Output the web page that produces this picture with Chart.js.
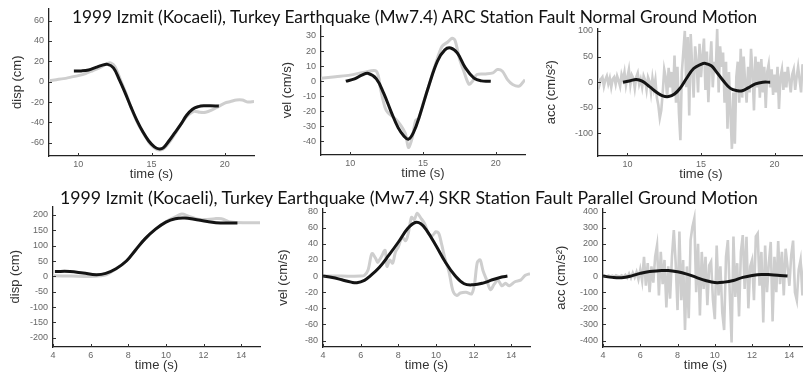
<!DOCTYPE html>
<html>
<head>
<meta charset="utf-8">
<script src="https://cdn.jsdelivr.net/npm/chart.js@4.4.1/dist/chart.umd.min.js"></script>
<style>
html,body{margin:0;padding:0;background:#fff}
#fig{position:relative;width:803px;height:372px;overflow:hidden;background:#fff}
#fig canvas{position:absolute}
.ttl{position:absolute;z-index:5;font-family:Lato,'Open Sans',sans-serif;color:#111;white-space:nowrap;line-height:1}
</style>
</head>
<body>
<div id="fig">
  <canvas id="arcDisp"></canvas>
  <canvas id="arcVel"></canvas>
  <canvas id="arcAcc"></canvas>
  <canvas id="skrDisp"></canvas>
  <canvas id="skrVel"></canvas>
  <canvas id="skrAcc"></canvas>
  <div class="ttl" id="title1">1999 Izmit (Kocaeli), Turkey Earthquake (Mw7.4) ARC Station Fault Normal Ground Motion</div>
  <div class="ttl" id="title2">1999 Izmit (Kocaeli), Turkey Earthquake (Mw7.4) SKR Station Fault Parallel Ground Motion</div>
</div>
<script>
// ===== Tick labels =====
const arcTimeTicks = [10, 15, 20];
const skrTimeTicks = [4, 6, 8, 10, 12, 14];
const arcDispTicks = [-60, -40, -20, 0, 20, 40, 60];
const arcVelTicks = [-40, -30, -20, -10, 0, 10, 20, 30];
const arcAccTicks = [-100, -50, 0, 50, 100];
const skrDispTicks = [-200, -150, -100, -50, 0, 50, 100, 150, 200];
const skrVelTicks = [-80, -60, -40, -20, 0, 20, 40, 60, 80];
const skrAccTicks = [-400, -300, -200, -100, 0, 100, 200, 300, 400];

// ===== ARC station (fault normal) =====
// model pulse (black)
const arcDispModelT = [9.7,10.2,10.7,11.2,11.6,12.0,12.4,12.8,13.2,13.6,14.0,14.4,14.8,15.2,15.5,15.8,16.2,16.6,17.0,17.4,17.8,18.2,18.6,19.0,19.6];
const arcDispModelV = [10.5,10.6,11.5,14,16,17,13.5,2,-11,-25,-38,-49,-58,-64,-66,-65,-58,-50,-42,-33,-27,-24.5,-23.6,-23.6,-24];
// recorded (grey)
const arcDispRecT = [8,8.5,9,9.5,10,10.5,11,11.5,12,12.2,12.5,12.9,13.3,13.7,14.1,14.5,14.9,15.3,15.6,15.9,16.3,16.7,17.1,17.5,17.9,18.3,18.7,19.1,19.5,20,20.4,20.8,21.2,21.6,22];
const arcDispRecV = [1,2,3,4.5,6,8,11,14,18,18.5,15,1,-13,-29,-42,-52,-61,-66,-67,-65,-58,-49,-40,-33,-29,-30,-30,-28,-25,-21,-19.5,-18,-18,-20,-19.5];

const arcVelModelT = [9.7,10.3,10.8,11.25,11.8,12.3,12.8,13.3,13.7,14.0,14.35,14.8,15.4,16.0,16.5,16.9,17.35,17.9,18.5,19.0,19.65];
const arcVelModelV = [0,1.5,4,5.1,1.5,-8,-20,-31,-36.5,-38.5,-34,-22,-3,13.5,20.8,22,18.7,9,2,0.2,0];
const arcVelRecT = [8,9,10,11,11.8,12.1,12.4,12.6,13.1,13.45,13.8,14.0,14.25,14.5,14.7,15.0,15.4,15.85,16.3,16.7,17.0,17.2,17.5,17.8,18.15,18.4,18.7,19.3,19.8,20.1,20.45,20.8,21.15,21.6,22];
const arcVelRecV = [2,3,4,6,6.6,-6,-17.6,-21,-25,-29,-35,-44,-38,-26,-25,-15,-3,11,23,26,28.5,27,15,6.6,-2,0,4.4,4.8,5.5,7.7,6.6,1,-2.2,-3.3,1];

const arcAccModelT = [9.7,10.2,10.6,11.0,11.5,12.0,12.4,12.8,13.2,13.6,14.0,14.5,15.0,15.3,15.7,16.0,16.5,17.0,17.5,17.8,18.2,18.7,19.2,19.7];
const arcAccModelV = [0,3,5.3,2,-8.7,-20,-26.7,-28,-23,-11,6.7,26.7,35,36.7,32,22,3.3,-12,-16.7,-16.7,-11,-3.3,0,0];
// recorded acceleration, one value every 0.1 s from 8.0 s to 22.0 s
const arcAccRecStart = 8.0;
const arcAccRecStep = 0.1;
const arcAccRecV = [
  8,-5,6,10,-8,5,12,-3,8,-10,6,
  10,-4,12,3,-8,15,5,20,-6,10,
  25,-5,14,8,-12,10,18,-4,6,-10,
  12,4,-15,10,2,-20,8,-12,5,-30,
  -45,-70,-55,-20,25,10,-30,28,-10,20,
  -25,52,-40,30,-60,-113,20,60,100,-10,
  88,-65,94,30,-30,70,40,-20,75,10,
  50,85,-15,60,-39,30,80,-10,40,20,
  104,-20,70,30,58,-40,40,-91,20,-60,
  -130,-20,-120,10,40,-40,65,-30,50,0,
  -40,30,-20,65,20,-55,50,-10,40,-30,
  45,-20,30,-50,20,35,-10,25,-25,15,
  -20,30,-52,10,25,-15,20,-10,30,5,
  -20,15,25,-15,10,30,5,-20,35,10
];

// ===== SKR station (fault parallel) =====
const skrDispModelT = [4.1,4.9,5.6,6.3,6.8,7.35,7.9,8.4,8.9,9.45,10,10.5,11,11.5,12.2,12.9,13.8];
const skrDispModelV = [16,16,11,5.6,10,25,50,87,123,154,177,188,190,186,179,174,174];
const skrDispRecT = [4,5,6,6.5,6.85,7.35,7.9,8.4,8.9,9.45,10,10.5,10.85,11.2,11.7,12.05,12.6,12.95,13.45,14.3,15];
const skrDispRecV = [2,1,0,2,6,25,50,87,123,154,178,194,203,196,186,185,188,188,177,175,175];

const skrVelModelT = [4,4.5,5,5.5,5.8,6.2,6.5,7,7.5,8,8.5,8.9,9.2,9.5,10,10.5,11,11.5,12,12.5,13,13.5,13.8];
const skrVelModelV = [0,-1.7,-4.6,-7.5,-8.3,-5.4,0,11,26,42,59,66.5,65,57,38,17.5,1,-9.5,-10.8,-8.7,-4.6,-1.2,0];
const skrVelRecT = [4,5,6,6.2,6.4,6.6,6.8,6.9,7.1,7.3,7.4,7.55,7.7,7.85,8,8.2,8.4,8.55,8.7,8.85,9,9.2,9.4,9.6,9.8,10,10.15,10.3,10.5,10.7,10.9,11.1,11.3,11.6,11.9,12.05,12.2,12.35,12.5,12.7,12.9,13.1,13.3,13.5,13.7,13.9,14.2,14.5,14.75,15];
const skrVelRecV = [0,0,0,1,8,28,22,17,24,32,12,20,16,30,36,48,44,55,73,70,78,72,65,53,50,55,53,40,20,5,-18,-24,-21,-20,-22,-10,17,20,7,-5,-17,-10,-5,-12,-9,-12,-7,-5,1,3];

const skrAccModelT = [4,4.5,5,5.5,6,6.5,7,7.5,8,8.5,9,9.5,10,10.5,11,11.5,12,12.5,13,13.5,13.9];
const skrAccModelV = [0,-8,-10,0,17,29,33,35,27,12.5,-8,-27,-40,-37.5,-27,-8,4,10.4,8.3,4,0];
// recorded acceleration, one value every 0.1 s from 4.0 s to 15.0 s
const skrAccRecStart = 4.0;
const skrAccRecStep = 0.1;
const skrAccRecV = [
  0,2,-3,4,-2,3,-4,5,0,-3,
  4,-5,8,-10,15,-12,20,-8,25,-20,
  40,-30,119,-60,80,-100,60,-40,120,190,
  -120,150,-50,100,-194,60,-140,120,285,80,
  -211,277,-150,100,-335,60,-262,223,307,358,
  -100,200,-245,150,-80,120,-180,67,90,-150,
  -267,190,-120,60,-225,-335,120,223,-100,-412,
  245,-130,80,-250,150,254,-80,244,-200,60,
  100,-150,247,265,-60,150,-288,190,-100,80,
  212,-281,120,-100,217,-50,150,-120,170,60,
  -60,130,220,-100,-150,40,100,-120,80,87,-140
];

// ===== helpers =====
const pts = (ts, vs) => ts.map((t, i) => ({x: t, y: vs[i]}));
const evenPts = (t0, dt, vs) => vs.map((v, i) => ({x: +(t0 + i * dt).toFixed(2), y: v}));

const model = data => ({data, borderColor: '#141414', borderWidth: 3, pointRadius: 0, tension: 0.4, fill: false});
const recorded = (data, smooth) => ({data, borderColor: '#cecece', borderWidth: smooth ? 3 : 2.6, pointRadius: 0, tension: smooth ? 0.3 : 0, fill: false});

// inward tick marks (MATLAB style)
const inTicks = {
  id: 'inTicks',
  afterDraw(chart) {
    const {ctx, chartArea: a, scales: {x, y}} = chart;
    ctx.save();
    ctx.strokeStyle = '#333';
    ctx.lineWidth = 1;
    ctx.beginPath();
    x.ticks.forEach(t => {
      const px = Math.round(x.getPixelForValue(t.value)) + 0.5;
      ctx.moveTo(px, a.bottom); ctx.lineTo(px, a.bottom - 3);
    });
    y.ticks.forEach(t => {
      const py = Math.round(y.getPixelForValue(t.value)) + 0.5;
      ctx.moveTo(a.left, py); ctx.lineTo(a.left + 3, py);
    });
    ctx.stroke();
    ctx.restore();
  }
};

const tickFont = {family: "'Liberation Sans', Arial, sans-serif", size: 9};
const titleFont = {family: "'Liberation Sans', Arial, sans-serif", size: 13};

function makeChart(id, box, o) {
  const YW = o.yTitleDist + 10, XH = 28, TP = 10, RP = 10;
  const cv = document.getElementById(id);
  cv.width = YW + box.r - box.l + RP;
  cv.height = TP + box.b - box.t + XH;
  cv.style.left = (box.l - YW) + 'px';
  cv.style.top = (box.t - TP) + 'px';
  new Chart(cv, {
    type: 'line',
    data: {datasets: o.datasets},
    options: {
      responsive: false,
      animation: false,
      devicePixelRatio: 1,
      layout: {padding: {top: TP, right: RP, left: 0, bottom: 0}},
      plugins: {legend: {display: false}, tooltip: {enabled: false}},
      scales: {
        x: {
          type: 'linear', min: o.xMin, max: o.xMax,
          grid: {display: false, drawTicks: false},
          border: {display: true, color: '#222', width: 1.3},
          ticks: {padding: 3, font: tickFont, color: '#666', autoSkip: false, maxRotation: 0, callback: v => String(v)},
          afterBuildTicks: s => { s.ticks = o.xTicks.map(v => ({value: v})); },
          afterFit: s => { s.height = XH; },
          title: {display: true, text: 'time (s)', font: titleFont, color: '#333', padding: {top: 0, bottom: 2.2}}
        },
        y: {
          type: 'linear', min: o.yMin, max: o.yMax,
          grid: {display: false, drawTicks: false},
          border: {display: true, color: '#222', width: 1.3},
          ticks: {padding: 5, font: tickFont, color: '#666', autoSkip: false, callback: v => String(v)},
          afterBuildTicks: s => { s.ticks = o.yTicks.map(v => ({value: v})); },
          afterFit: s => { s.width = YW; },
          title: {display: true, text: o.yTitle, font: titleFont, color: '#333', padding: {top: 2.2, bottom: 0}}
        }
      }
    },
    plugins: [inTicks]
  });
}

// ===== Top row: ARC =====
makeChart('arcDisp', {l: 49, t: 8, r: 254, b: 156}, {
  yTitle: 'disp (cm)', yTitleDist: 32, xMin: 8, xMax: 22, yMin: -73, yMax: 72,
  xTicks: arcTimeTicks, yTicks: arcDispTicks,
  datasets: [model(pts(arcDispModelT, arcDispModelV)), recorded(pts(arcDispRecT, arcDispRecV), true)]
});
makeChart('arcVel', {l: 321, t: 25, r: 525, b: 155}, {
  yTitle: 'vel (cm/s)', yTitleDist: 34, xMin: 8, xMax: 22, yMin: -49, yMax: 37,
  xTicks: arcTimeTicks, yTicks: arcVelTicks,
  datasets: [model(pts(arcVelModelT, arcVelModelV)), recorded(pts(arcVelRecT, arcVelRecV), true)]
});
makeChart('arcAcc', {l: 598, t: 28, r: 804, b: 156}, {
  yTitle: 'acc (cm/s²)', yTitleDist: 47, xMin: 8, xMax: 22, yMin: -144, yMax: 105,
  xTicks: arcTimeTicks, yTicks: arcAccTicks,
  datasets: [model(pts(arcAccModelT, arcAccModelV)), recorded(evenPts(arcAccRecStart, arcAccRecStep, arcAccRecV), false)]
});

// ===== Bottom row: SKR =====
makeChart('skrDisp', {l: 53, t: 206, r: 260, b: 347}, {
  yTitle: 'disp (cm)', yTitleDist: 38, xMin: 4, xMax: 15, yMin: -230, yMax: 228,
  xTicks: skrTimeTicks, yTicks: skrDispTicks,
  datasets: [model(pts(skrDispModelT, skrDispModelV)), recorded(pts(skrDispRecT, skrDispRecV), true)]
});
makeChart('skrVel', {l: 323, t: 208, r: 530, b: 347}, {
  yTitle: 'vel (cm/s)', yTitleDist: 40, xMin: 4, xMax: 15, yMin: -88, yMax: 84,
  xTicks: skrTimeTicks, yTicks: skrVelTicks,
  datasets: [model(pts(skrVelModelT, skrVelModelV)), recorded(pts(skrVelRecT, skrVelRecV), true)]
});
makeChart('skrAcc', {l: 603, t: 208, r: 808, b: 347}, {
  yTitle: 'acc (cm/s²)', yTitleDist: 42, xMin: 4, xMax: 15, yMin: -440, yMax: 420,
  xTicks: skrTimeTicks, yTicks: skrAccTicks,
  datasets: [model(pts(skrAccModelT, skrAccModelV)), recorded(evenPts(skrAccRecStart, skrAccRecStep, skrAccRecV), false)]
});

// ===== Row titles =====
function fitTitle(id, left, right, baseline) {
  const el = document.getElementById(id);
  el.style.fontSize = '16px';
  const w = el.getBoundingClientRect().width;
  const fs = 16 * (right - left) / w;
  el.style.fontSize = fs + 'px';
  el.style.left = left + 'px';
  el.style.top = (baseline - 0.887 * fs) + 'px';
}
fitTitle('title1', 72, 758, 23.5);
fitTitle('title2', 60, 758, 204.5);
</script>
</body>
</html>
